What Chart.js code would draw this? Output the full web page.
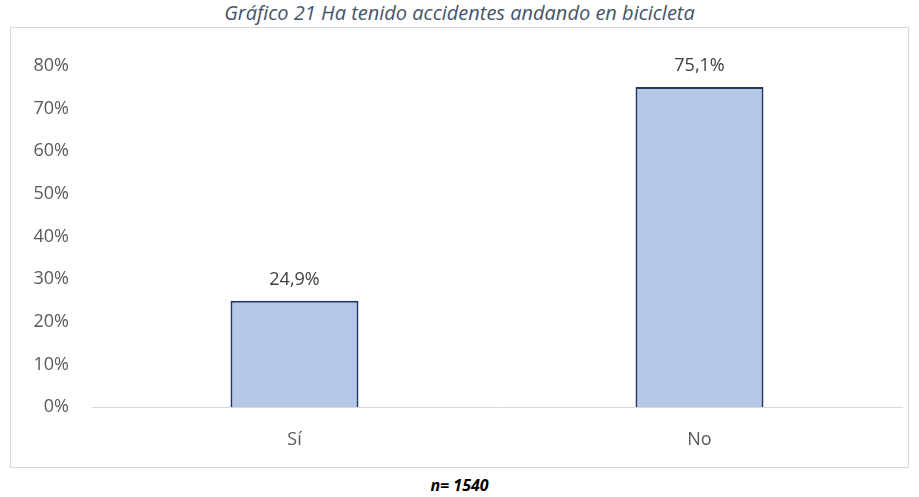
<!DOCTYPE html>
<html>
<head>
<meta charset="utf-8">
<script src="https://cdn.jsdelivr.net/npm/chart.js@4"></script>
<style>
  body { margin: 0; background: #fff; font-family: "Open Sans", sans-serif; }
  #title {
    position: absolute; left: 0; top: -1px; width: 919px; text-align: center;
    font-style: italic; font-size: 20px; color: #44546a;
  }
  #box {
    position: absolute; left: 10px; top: 27px; width: 897px; height: 439px;
    border: 1px solid #d9d9d9;
  }
  #footer {
    position: absolute; left: 0; top: 474px; width: 919px; text-align: center;
    font-style: italic; font-weight: bold; font-size: 16px; color: #000;
  }
</style>
</head>
<body>
<div id="title">Gráfico 21 Ha tenido accidentes andando en bicicleta</div>
<div id="box"><canvas id="chart" width="897" height="439"></canvas></div>
<div id="footer">n= 1540</div>
<script>
// Categories and values (%)
const categories = ["Sí", "No"];
const percentages = [24.9, 75.1];
const yTicks = [0, 10, 20, 30, 40, 50, 60, 70, 80];

const fmt = v => v.toFixed(1).replace('.', ',') + '%';

// Draw value labels above each bar
const valueLabels = {
    id: 'valueLabels',
    afterDatasetsDraw(chart) {
        const ctx = chart.ctx;
        const meta = chart.getDatasetMeta(0);
        ctx.save();
        ctx.font = '18px "Open Sans"';
        ctx.fillStyle = '#404040';
        ctx.textAlign = 'center';
        ctx.textBaseline = 'bottom';
        meta.data.forEach((bar, i) => {
            ctx.fillText(fmt(percentages[i]), bar.x, bar.y - 12);
        });
        ctx.restore();
    }
};

new Chart(document.getElementById('chart'), {
    type: 'bar',
    data: {
        labels: categories,
        datasets: [{
            data: percentages,
            backgroundColor: '#b4c7e7',
            borderColor: '#203864',
            borderWidth: { top: 2, left: 2, right: 2, bottom: 0 },
            borderSkipped: false,
            categoryPercentage: 1,
            barPercentage: 0.316
        }]
    },
    options: {
        responsive: false,
        animation: false,
        layout: { padding: { top: 38, right: 6, left: 0, bottom: 0 } },
        plugins: { legend: { display: false }, tooltip: { enabled: false } },
        scales: {
            y: {
                min: 0, max: 80,
                afterFit: s => { s.width = 81; },
                afterBuildTicks: s => { s.ticks = yTicks.map(v => ({ value: v })); },
                grid: { display: false, drawTicks: false },
                border: { display: false },
                ticks: {
                    padding: 23,
                    color: '#595959',
                    font: { family: 'Open Sans', size: 18 },
                    callback: v => v + '%'
                }
            },
            x: {
                afterFit: s => { s.height = 60; },
                grid: { display: false, drawTicks: false },
                border: { display: true, color: '#d9d9d9', width: 1 },
                ticks: {
                    padding: 22,
                    color: '#595959',
                    font: { family: 'Open Sans', size: 18 }
                }
            }
        }
    },
    plugins: [valueLabels]
});
</script>
</body>
</html>
